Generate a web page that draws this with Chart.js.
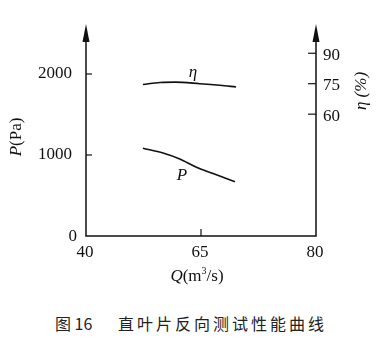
<!DOCTYPE html>
<html>
<head>
<meta charset="utf-8">
<script src="https://cdn.jsdelivr.net/npm/chart.js@4"></script>
<style>
  body { margin: 0; background: #fff; width: 385px; height: 344px; position: relative; overflow: hidden; }
  #myChart { position: absolute; left: 0; top: 0; }
  .cap { position: absolute; top: 311px; font-family: "Noto Sans CJK SC", sans-serif; font-size: 16px; color: #222; white-space: pre; }
</style>
</head>
<body>
<canvas id="myChart" width="385" height="300"></canvas>
<div class="cap" style="left:55px">图 16</div>
<div class="cap" style="left:118px; letter-spacing:3px">直叶片反向测试性能曲线</div>
<script>
// flow rate Q (m3/s) and measured curves
var qEta = [49.9, 52.9, 55.5, 59.8, 63.3, 66.1];
var etaValues = [74.6, 75.6, 75.8, 75.0, 74.2, 73.4];
var qP = [49.9, 53.4, 56.3, 59.3, 62.1, 65.9];
var pValues = [1083, 1024, 950, 845, 772, 670];

// tick labels
var xTicks = [40, 60, 80];
var xTickLabels = ['40', '65', '80'];
var pTicks = [0, 1000, 2000];
var etaTicks = [60, 75, 90];

function toPoints(xs, ys) {
  var pts = [];
  for (var i = 0; i < xs.length; i++) {
    pts.push({x: xs[i], y: ys[i]});
  }
  return pts;
}

var serif = '"Liberation Serif", "DejaVu Serif", serif';

var axesPlugin = {
  id: 'axes',
  afterDraw: function(chart) {
    var ctx = chart.ctx;
    var area = chart.chartArea;
    var x = chart.scales.x;
    var yP = chart.scales.yP;
    var yEta = chart.scales.yEta;
    var left = area.left, right = area.right, bottom = area.bottom, top = area.top;

    ctx.save();
    ctx.strokeStyle = '#111';
    ctx.fillStyle = '#111';
    ctx.lineWidth = 1.5;

    // axis lines
    ctx.beginPath();
    ctx.moveTo(left, top + 10);
    ctx.lineTo(left, bottom);
    ctx.lineTo(right, bottom);
    ctx.lineTo(right, top + 10);
    ctx.stroke();

    // arrow heads
    [left, right].forEach(function(ax) {
      ctx.beginPath();
      ctx.moveTo(ax, top);
      ctx.lineTo(ax - 3.5, top + 18);
      ctx.lineTo(ax + 3.5, top + 18);
      ctx.closePath();
      ctx.fill();
    });

    ctx.lineWidth = 1.2;
    ctx.font = '17px ' + serif;
    ctx.textBaseline = 'middle';

    // left ticks
    ctx.textAlign = 'right';
    pTicks.forEach(function(v) {
      var py = yP.getPixelForValue(v);
      if (v > 0) {
        ctx.beginPath();
        ctx.moveTo(left, py);
        ctx.lineTo(left + 6, py);
        ctx.stroke();
        ctx.fillText(String(v), left - 14, py);
      } else {
        ctx.fillText(String(v), left - 9, py + 1);
      }
    });

    // right ticks
    ctx.textAlign = 'left';
    etaTicks.forEach(function(v) {
      var py = yEta.getPixelForValue(v);
      ctx.beginPath();
      ctx.moveTo(right, py);
      ctx.lineTo(right - 8, py);
      ctx.stroke();
      ctx.fillText(String(v), right + 7, py + 2);
    });

    // bottom ticks
    ctx.textAlign = 'center';
    xTicks.forEach(function(v, i) {
      var px = x.getPixelForValue(v);
      if (i === 1) {
        ctx.beginPath();
        ctx.moveTo(px, bottom);
        ctx.lineTo(px, bottom - 7);
        ctx.stroke();
      }
      ctx.fillText(xTickLabels[i], px - 1, bottom + 17);
    });

    // x title
    ctx.textAlign = 'left';
    ctx.font = 'italic 17px ' + serif;
    var qw = ctx.measureText('Q').width;
    ctx.font = '17px ' + serif;
    var rest1 = '(m';
    var rest2 = '/s)';
    var w1 = ctx.measureText(rest1).width;
    ctx.font = '10px ' + serif;
    var w3 = ctx.measureText('3').width;
    ctx.font = '17px ' + serif;
    var w2 = ctx.measureText(rest2).width;
    var tx = 197 - (qw + w1 + w3 + w2) / 2;
    var ty = bottom + 41;
    ctx.font = 'italic 17px ' + serif;
    ctx.fillText('Q', tx, ty);
    ctx.font = '17px ' + serif;
    ctx.fillText(rest1, tx + qw, ty);
    ctx.font = '10px ' + serif;
    ctx.fillText('3', tx + qw + w1, ty - 6);
    ctx.font = '17px ' + serif;
    ctx.fillText(rest2, tx + qw + w1 + w3, ty);

    // left title, rotated
    ctx.save();
    ctx.translate(17, 137);
    ctx.rotate(-Math.PI / 2);
    ctx.font = 'italic 17px ' + serif;
    var pw = ctx.measureText('P').width;
    ctx.font = '17px ' + serif;
    var paw = ctx.measureText('(Pa)').width;
    var sx = -(pw + paw) / 2;
    ctx.font = 'italic 17px ' + serif;
    ctx.fillText('P', sx, 0);
    ctx.font = '17px ' + serif;
    ctx.fillText('(Pa)', sx + pw, 0);
    ctx.restore();

    // right title, rotated
    ctx.save();
    ctx.translate(362, 91);
    ctx.rotate(-Math.PI / 2);
    ctx.textAlign = 'center';
    ctx.font = 'italic 17px ' + serif;
    ctx.fillText('\u03b7 (%)', 0, 0);
    ctx.restore();

    // curve labels
    ctx.font = 'italic 17px ' + serif;
    ctx.textAlign = 'center';
    ctx.fillText('\u03b7', 193, 73);
    ctx.fillText('P', 182, 176);

    ctx.restore();
  }
};

function chartOnLoad() {
  var ctx = document.getElementById('myChart');

  new Chart(ctx, {
    type: 'line',
    data: {
      datasets: [{
        label: 'eta',
        data: toPoints(qEta, etaValues),
        yAxisID: 'yEta',
        borderColor: '#111',
        borderWidth: 1.6,
        pointRadius: 0,
        cubicInterpolationMode: 'monotone',
        fill: false
      }, {
        label: 'P',
        data: toPoints(qP, pValues),
        yAxisID: 'yP',
        borderColor: '#111',
        borderWidth: 1.6,
        pointRadius: 0,
        cubicInterpolationMode: 'monotone',
        fill: false
      }]
    },
    options: {
      responsive: false,
      animation: false,
      devicePixelRatio: 1,
      layout: {
        padding: {left: 86, right: 69, top: 24, bottom: 64}
      },
      plugins: {
        legend: {display: false},
        tooltip: {enabled: false}
      },
      scales: {
        x: {type: 'linear', min: 40, max: 80, display: false},
        yP: {type: 'linear', position: 'left', min: 0, max: 2617, display: false},
        yEta: {type: 'linear', position: 'right', min: 0, max: 104.4, display: false}
      }
    },
    plugins: [axesPlugin]
  });
}

window.onload = chartOnLoad();
</script>
</body>
</html>
